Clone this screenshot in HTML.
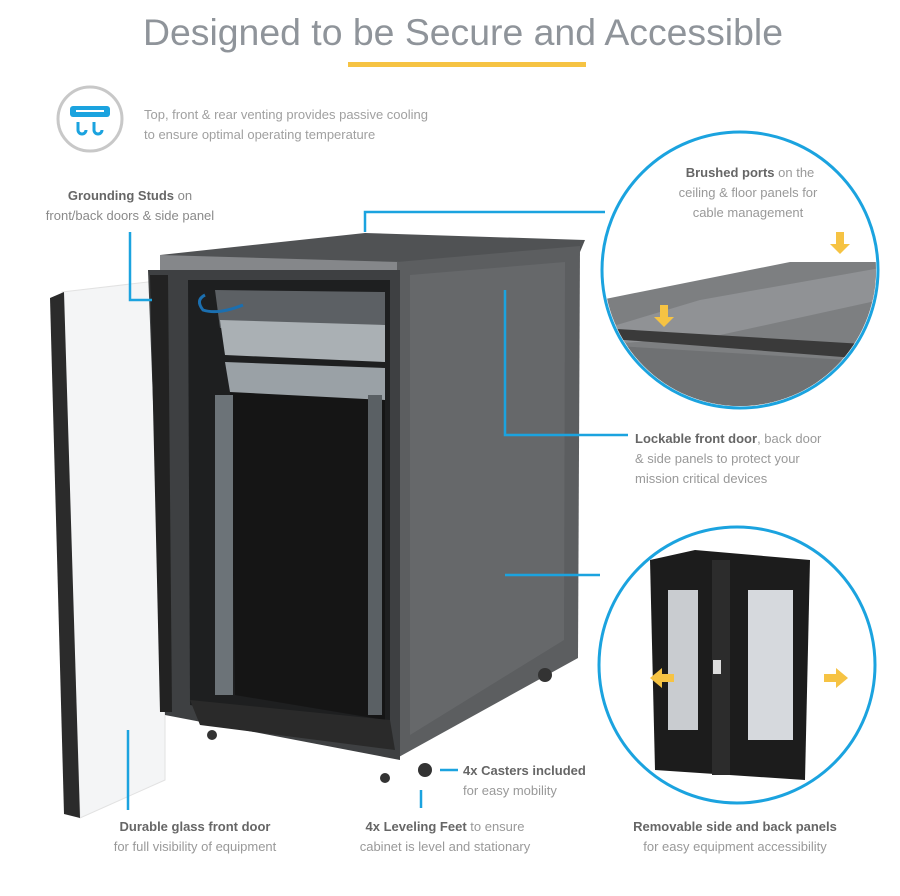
<!DOCTYPE html>
<html><head><meta charset="utf-8"><style>
html,body{margin:0;padding:0;background:#fff;}
body{width:900px;height:891px;overflow:hidden;}
svg text{font-family:"Liberation Sans",sans-serif;}
</style></head><body>
<svg width="900" height="891" viewBox="0 0 900 891" xmlns="http://www.w3.org/2000/svg">
<text x="463" y="45" font-size="37" fill="#8f949a" text-anchor="middle" textLength="640" lengthAdjust="spacingAndGlyphs">Designed to be Secure and Accessible</text>
<rect x="348" y="62" width="238" height="5" fill="#f6c343"/>
<!-- icon -->
<circle cx="90" cy="119" r="32" fill="#fff" stroke="#c8c8c8" stroke-width="3"/>
<rect x="70" y="106" width="40" height="11" rx="3" fill="#1ba3df"/>
<rect x="76" y="110" width="28" height="2" fill="#fff"/>
<path d="M78 122 v8 a4 4 0 0 0 8 0 M94 122 v8 a4 4 0 0 0 8 0" stroke="#1ba3df" stroke-width="3" fill="none"/>
<text font-size="13" fill="#a0a0a0"><tspan x="144" y="119">Top, front &amp; rear venting provides passive cooling</tspan><tspan x="144" y="139">to ensure optimal operating temperature</tspan></text>
<text font-size="13" fill="#8a8a8a" text-anchor="middle"><tspan x="130" y="200"><tspan fill="#666" font-weight="bold">Grounding Studs</tspan> on</tspan><tspan x="130" y="220">front/back doors &amp; side panel</tspan></text>
<!-- door -->
<polygon points="62,292 165,280 165,780 80,818" fill="#f4f5f6" stroke="#e2e2e2"/>
<polygon points="50,298 64,292 80,818 64,814" fill="#2b2b2b"/>
<!-- top -->
<polygon points="160,255 365,233 585,240 580,252 400,272 165,272" fill="#505254"/>
<polygon points="160,255 400,262 400,272 160,270" fill="#85878a"/>
<!-- side panel -->
<polygon points="397,262 580,246 578,658 397,758" fill="#5c5e60"/>
<polygon points="410,275 565,262 564,640 410,735" fill="#66686a"/>
<!-- front frame -->
<polygon points="148,270 400,270 400,760 165,715" fill="#3e4042"/>
<polygon points="150,275 168,275 172,712 160,712" fill="#222"/>
<polygon points="188,280 390,280 390,740 190,705" fill="#1e1f20"/>
<polygon points="230,390 385,395 385,720 235,695" fill="#151515"/>
<polygon points="215,290 385,292 385,330 220,328" fill="#5c6064"/>
<polygon points="220,320 385,325 385,362 225,355" fill="#aab0b4"/>
<polygon points="225,362 385,368 385,400 230,392" fill="#9aa1a6"/>
<rect x="215" y="395" width="18" height="300" fill="#6c7378"/>
<rect x="368" y="395" width="14" height="320" fill="#5a6064"/>
<polygon points="190,700 390,720 395,750 200,725" fill="#2a2a2a"/>
<path d="M205 295 q-10 5 -2 15 q15 5 40 -5" stroke="#1b6fb0" stroke-width="3" fill="none"/>
<circle cx="545" cy="675" r="7" fill="#333"/><circle cx="425" cy="770" r="7" fill="#333"/><circle cx="385" cy="778" r="5" fill="#333"/><circle cx="212" cy="735" r="5" fill="#333"/>
<!-- connectors -->
<g stroke="#1ba3df" stroke-width="2.5" fill="none">
<polyline points="365,232 365,212 605,212"/>
<polyline points="130,232 130,300 152,300"/>
<polyline points="505,290 505,435 628,435"/>
<polyline points="505,575 600,575"/>
<polyline points="128,730 128,810"/>
<polyline points="440,770 458,770"/>
<polyline points="421,790 421,808"/>
</g>
<!-- top circle -->
<circle cx="740" cy="270" r="138" fill="#fff" stroke="#1ba3df" stroke-width="3"/>
<clipPath id="c1"><circle cx="740" cy="270" r="136"/></clipPath>
<g clip-path="url(#c1)">
<polygon points="600,300 790,262 880,262 880,410 600,410" fill="#7d7f81"/>
<polygon points="600,330 700,300 880,268 880,300 720,335 600,345" fill="#909295"/>
<polygon points="600,328 880,345 880,360 600,338" fill="#3a3a3a"/>
<polygon points="600,345 880,362 880,410 600,410" fill="#6f7173"/>
</g>
<path d="M836 232 h8 v12 h6 l-10 10 -10 -10 h6z" fill="#f6c343"/>
<path d="M660 305 h8 v12 h6 l-10 10 -10 -10 h6z" fill="#f6c343"/>
<text font-size="13" fill="#999" text-anchor="middle"><tspan x="750" y="177"><tspan fill="#666" font-weight="bold">Brushed ports</tspan> on the</tspan><tspan x="748" y="197">ceiling &amp; floor panels for</tspan><tspan x="748" y="217">cable management</tspan></text>
<text font-size="13" fill="#999"><tspan x="635" y="443"><tspan fill="#666" font-weight="bold">Lockable front door</tspan>, back door</tspan><tspan x="635" y="463">&amp; side panels to protect your</tspan><tspan x="635" y="483">mission critical devices</tspan></text>
<!-- bottom circle -->
<circle cx="737" cy="665" r="138" fill="#fff" stroke="#1ba3df" stroke-width="3"/>
<polygon points="650,560 695,550 810,560 805,780 655,770" fill="#1c1c1c"/>
<rect x="668" y="590" width="30" height="140" fill="#c9ccd0"/>
<rect x="748" y="590" width="45" height="150" fill="#d6d9dd"/>
<rect x="712" y="560" width="18" height="215" fill="#2c2c2c"/>
<rect x="713" y="660" width="8" height="14" fill="#ddd"/>
<path d="M650 678 l12 -10 v6 h12 v8 h-12 v6z" fill="#f6c343"/>
<path d="M848 678 l-12 -10 v6 h-12 v8 h12 v6z" fill="#f6c343"/>
<text font-size="13" fill="#999"><tspan x="463" y="775"><tspan fill="#666" font-weight="bold">4x Casters included</tspan></tspan><tspan x="463" y="795">for easy mobility</tspan></text>
<text font-size="13" fill="#999" text-anchor="middle"><tspan x="195" y="831"><tspan fill="#666" font-weight="bold">Durable glass front door</tspan></tspan><tspan x="195" y="851">for full visibility of equipment</tspan></text>
<text font-size="13" fill="#999" text-anchor="middle"><tspan x="445" y="831"><tspan fill="#666" font-weight="bold">4x Leveling Feet</tspan> to ensure</tspan><tspan x="445" y="851">cabinet is level and stationary</tspan></text>
<text font-size="13" fill="#999" text-anchor="middle"><tspan x="735" y="831"><tspan fill="#666" font-weight="bold">Removable side and back panels</tspan></tspan><tspan x="735" y="851">for easy equipment accessibility</tspan></text>
</svg>
</body></html>
